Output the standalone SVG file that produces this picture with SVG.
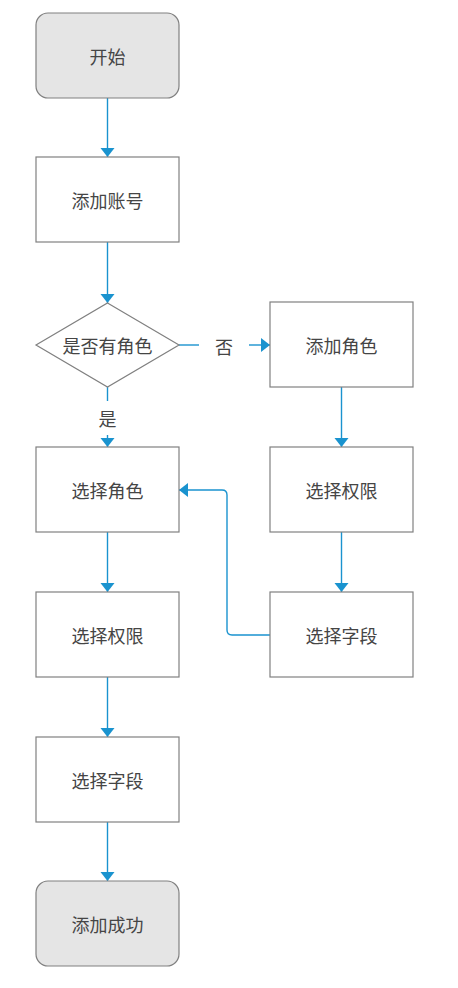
<svg xmlns="http://www.w3.org/2000/svg" width="458" height="988" viewBox="0 0 458 988">
<defs>
<marker id="ah" markerWidth="10" markerHeight="16" refX="9" refY="7" orient="auto" markerUnits="userSpaceOnUse">
<path d="M0,0 L9,7 L0,14 Z" fill="#1a93cf"/>
</marker>
<style>
.box{fill:#ffffff;stroke:#808080;stroke-width:1.2}
.term{fill:#e5e5e5;stroke:#808080;stroke-width:1.2}
.t{font-family:"Noto Sans CJK SC","Noto Sans",sans-serif;font-size:18px;fill:#454545;text-anchor:middle;dominant-baseline:central}
.c{fill:none;stroke:#1a93cf;stroke-width:1.4}
</style>
</defs>
<rect width="458" height="988" fill="#ffffff"/>
<g id="connectors">
<path class="c" d="M107.5,98 V157" marker-end="url(#ah)"/>
<path class="c" d="M107.5,242 V303" marker-end="url(#ah)"/>
<path class="c" d="M179,345 H199"/>
<path class="c" d="M249,345 H270" marker-end="url(#ah)"/>
<path class="c" d="M107.5,387 V401"/>
<path class="c" d="M107.5,435 V447" marker-end="url(#ah)"/>
<path class="c" d="M341.5,387 V447" marker-end="url(#ah)"/>
<path class="c" d="M341.5,532 V592" marker-end="url(#ah)"/>
<path class="c" d="M270,635 H232 Q227,635 227,630 V495 Q227,490 222,490 H179" marker-end="url(#ah)"/>
<path class="c" d="M107.5,532 V592" marker-end="url(#ah)"/>
<path class="c" d="M107.5,677 V737" marker-end="url(#ah)"/>
<path class="c" d="M107.5,822 V881" marker-end="url(#ah)"/>
<text class="t" x="224" y="346">否</text>
<text class="t" x="107.5" y="418">是</text>
</g>
<g id="start"><rect class="term" x="36" y="13" width="143" height="85" rx="12"/><text class="t" x="107.5" y="55.5">开始</text></g>
<g id="addAccount"><rect class="box" x="36" y="157" width="143" height="85"/><text class="t" x="107.5" y="199.5">添加账号</text></g>
<g id="hasRole"><path class="box" d="M107.5,303 L179,345 L107.5,387 L36,345 Z"/><text class="t" x="107.5" y="345">是否有角色</text></g>
<g id="addRole"><rect class="box" x="270" y="302" width="143" height="85"/><text class="t" x="341.5" y="345">添加角色</text></g>
<g id="selRoleL"><rect class="box" x="36" y="447" width="143" height="85"/><text class="t" x="107.5" y="490">选择角色</text></g>
<g id="selPermR"><rect class="box" x="270" y="447" width="143" height="85"/><text class="t" x="341.5" y="490">选择权限</text></g>
<g id="selFieldR"><rect class="box" x="270" y="592" width="143" height="85"/><text class="t" x="341.5" y="635">选择字段</text></g>
<g id="selPermL"><rect class="box" x="36" y="592" width="143" height="85"/><text class="t" x="107.5" y="635">选择权限</text></g>
<g id="selFieldL"><rect class="box" x="36" y="737" width="143" height="85"/><text class="t" x="107.5" y="780">选择字段</text></g>
<g id="success"><rect class="term" x="36" y="881" width="143" height="85" rx="12"/><text class="t" x="107.5" y="923.5">添加成功</text></g>
</svg>
